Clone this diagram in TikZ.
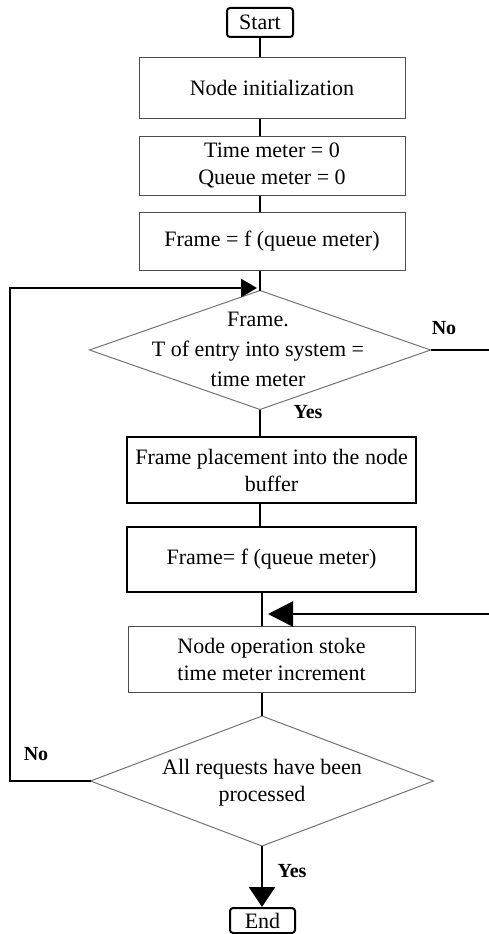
\documentclass[tikz,border=0pt]{standalone}
\usepackage{fontspec}
\setmainfont{Liberation Serif}
\usetikzlibrary{shapes.geometric,arrows.meta}
\colorlet{boxline}{black!70}
\colorlet{diamline}{black!55}

\tikzset{
  thinbox/.style={draw=boxline, line width=1pt, rectangle, inner sep=3pt, align=center, font=\fontsize{22}{27}\selectfont},
  boldbox/.style={thinbox, draw=black, line width=2.4pt},
  termbox/.style={draw=black, line width=2pt, rounded corners=3pt, inner sep=2pt, font=\fontsize{22}{27}\selectfont},
  decision/.style={draw=diamline, line width=1pt, diamond, inner sep=0pt, outer sep=0pt},
  dtext/.style={align=center, inner sep=0pt},
  flow/.style={line width=2.6pt},
  lbl/.style={font=\bfseries\fontsize{20}{24}\selectfont},
}

\begin{document}
\begin{tikzpicture}[x=1pt, y=-1pt]
\useasboundingbox (0,0) rectangle (488,934);
% boxes down the middle
\node[termbox, minimum width=66, minimum height=29] (start) at (260,22.5) {Start};
\node[thinbox, minimum width=266, minimum height=60] (init) at (272,88) {Node initialization};
\node[thinbox, minimum width=266, minimum height=59] (meter) at (272,165.5) {Time meter = 0\\Queue meter = 0};
\node[thinbox, minimum width=266, minimum height=58] (frame1) at (272,241) {Frame = f (queue meter)};
\node[decision, minimum width=341, minimum height=119] (d1) at (260,350) {};
\node[dtext, font=\fontsize{22}{30}\selectfont] (d1txt) at (258,349) {Frame.\\T of entry into system =\\time meter};
\node[boldbox, minimum width=289, minimum height=66] (place) at (271.5,470) {Frame placement into the node\\buffer};
\node[boldbox, minimum width=289, minimum height=65] (frame2) at (271.5,559.5) {Frame= f (queue meter)};
\node[thinbox, minimum width=287, minimum height=66] (oper) at (271.5,659) {Node operation stoke\\time meter increment};
\node[decision, minimum width=343, minimum height=130] (d2) at (262,781) {};
\node[dtext, font=\fontsize{22}{27}\selectfont] (d2txt) at (262,783) {All requests have been\\processed};
\node[termbox, minimum width=65, minimum height=25] (end) at (262.5,920.5) {End};

% spine
\draw[flow] (start.south) -- (start.south |- init.north);
\draw[flow] (start.south |- init.south) -- (start.south |- meter.north);
\draw[flow] (start.south |- meter.south) -- (start.south |- frame1.north);
\draw[flow] (start.south |- frame1.south) -- (d1.north);
\draw[flow] (d1.south) -- (d1.south |- place.north);
\draw[flow] (d1.south |- place.south) -- (d1.south |- frame2.north);
\draw[flow] (d2.north |- frame2.south) -- (d2.north |- oper.north);
\draw[flow] (d2.north |- oper.south) -- (d2.north);
\draw[flow, -{Triangle[length=20pt,width=26pt]}] (d2.south) -- (d2.south |- end.north);

% loops
\coordinate (leftrail) at (10,500);
\coordinate (rightrail) at (492,500);
\coordinate (loopin) at (257,288);
\coordinate (opin) at (268,614);
\draw[flow, -{Triangle[length=16pt,width=18pt]}] (d2.west) -- (d2.west -| leftrail) |- (loopin);
\draw[flow, -{Triangle[length=25pt,width=25pt]}] (d1.east) -- (d1.east -| rightrail) |- (opin);

\node[lbl] (no1) at (444,328) {No};
\node[lbl] (yes1) at (308,412) {Yes};
\node[lbl] (no2) at (36,754) {No};
\node[lbl] (yes2) at (292,871) {Yes};
\end{tikzpicture}
\end{document}
